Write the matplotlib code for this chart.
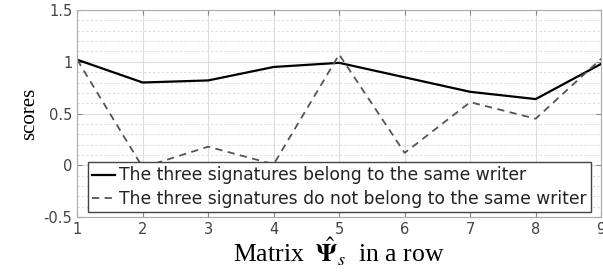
import matplotlib
matplotlib.use("Agg")
import matplotlib.pyplot as plt
from matplotlib.ticker import MultipleLocator

plt.rcParams["mathtext.fontset"] = "stix"

x = [1, 2, 3, 4, 5, 6, 7, 8, 9]
same_writer = [1.02, 0.80, 0.82, 0.95, 0.99, 0.85, 0.71, 0.64, 0.98]
diff_writer = [1.02, -0.02, 0.18, 0.01, 1.07, 0.12, 0.61, 0.45, 1.03]
labels = ["The three signatures belong to the same writer",
          "The three signatures do not belong to the same writer"]

fig = plt.figure(figsize=(6.03, 2.79), dpi=100)
ax = fig.add_axes([0.128, 0.222, 0.869, 0.742])

ax.plot(x, same_writer, color="black", lw=1.6, label=labels[0])
ax.plot(x, diff_writer, color="#555555", lw=1.3, ls=(0, (4, 3)), label=labels[1])

ax.set_xlim(1, 9)
ax.set_ylim(-0.5, 1.5)
ax.xaxis.set_major_locator(MultipleLocator(1))
ax.yaxis.set_minor_locator(MultipleLocator(0.1))
ax.set_yticks([-0.5, 0, 0.5, 1, 1.5])
ax.set_yticklabels(["-0.5", "0", "0.5", "1", "1.5"])
ax.grid(which="major", color="#dddddd", lw=0.8)
ax.grid(which="minor", axis="y", color="#dddddd", lw=0.8, ls=(0, (2, 2)))
ax.tick_params(which="both", direction="in", top=True, right=True, labelsize=10.5,
               labelcolor="#444444", color="#888888")
ax.tick_params(which="minor", length=0)
for s in ax.spines.values():
    s.set_color("#aaaaaa")

ax.set_xlabel(r"Matrix  $\hat{\mathbf{\Psi}}_s$  in a row", family="Liberation Serif", fontsize=18.5, labelpad=-1)
ax.set_ylabel("scores", family="Liberation Serif", fontsize=15, labelpad=3)

leg = ax.legend(loc="lower center", bbox_to_anchor=(0.5, 0.025), fontsize=12.3, frameon=True,
                fancybox=False, edgecolor="#444444", framealpha=1, handlelength=1.35,
                borderpad=0.25, labelspacing=0.3, handletextpad=0.2, borderaxespad=0)
leg.get_frame().set_linewidth(1.0)
for t in leg.get_texts():
    t.set_color("#222222")

fig.savefig("out.png", dpi=100)
